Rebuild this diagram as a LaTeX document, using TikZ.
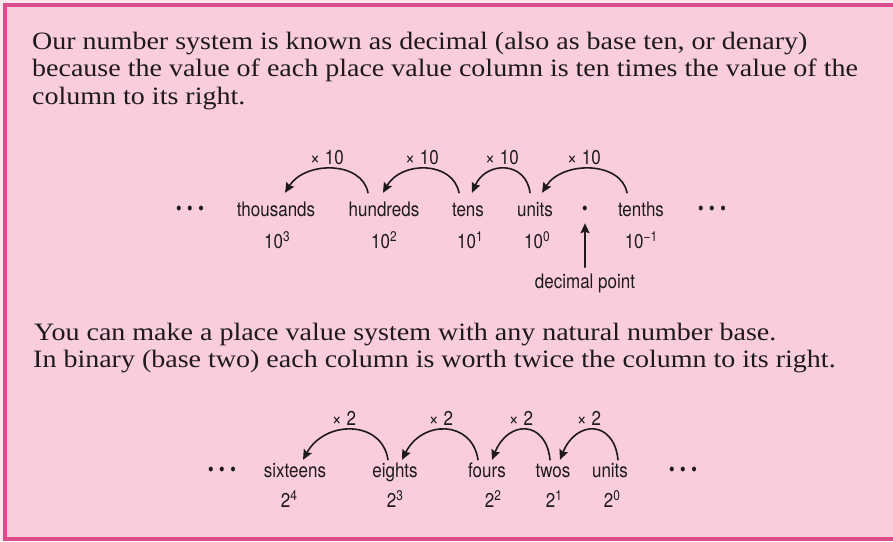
\documentclass[tikz,border=0pt]{standalone}
\usepackage{fontspec}
\setmainfont{Liberation Serif}[FakeStretch=1.12]
\setsansfont{TeX Gyre Heros}[FakeStretch=0.85]
\usetikzlibrary{arrows.meta}
\definecolor{boxpink}{RGB}{249,204,222}
\definecolor{rimpink}{RGB}{218,78,138}
\definecolor{inkgrey}{RGB}{30,26,28}
\newcommand{\elip}{{\bfseries\fontsize{32}{32}\selectfont ·\kern3.5pt·\kern3.5pt·}}
\newcommand{\pw}[1]{\raisebox{6.5pt}{\fontsize{14}{14}\selectfont #1}}

\begin{document}
\begin{tikzpicture}[x=1pt,y=-1pt]
\tikzset{
  bodytext/.style={anchor=base west,inner sep=0pt,font=\fontsize{25}{28}\selectfont,text=inkgrey},
  sanstext/.style={anchor=base,inner sep=0pt,font=\sffamily\fontsize{20}{24}\selectfont,text=inkgrey},
  colname/.style={sanstext,text height=14pt,text depth=4pt},
  hop/.style={draw=inkgrey,line width=1.6pt,line cap=round,-{Stealth[length=10pt,width=9pt,inset=1.5pt]}}
}
\useasboundingbox (0,0) rectangle (893,541);
\clip (0,0) rectangle (893,541);
\fill[white!55!boxpink] (0,0) rectangle (893,541);
\draw[rimpink,line width=4pt,fill=boxpink] (5,5) rectangle (905,538.5);
% decimal text
\node[bodytext] (n_line1) at (32,49) {Our number system is known as decimal (also as base ten, or denary)};
\node[bodytext] (n_line2) at (32,76.5) {because the value of each place value column is ten times the value of the};
\node[bodytext] (n_line3) at (32,104) {column to its right.};
% decimal columns
\node[sanstext] (n_dotsA) at (190,216) {\elip};
\node[colname] (n_thousands) at (276,216) {thousands};
\node[colname] (n_hundreds) at (384,216) {hundreds};
\node[colname] (n_tens) at (468,216) {tens};
\node[colname] (n_units) at (535,216) {units};
\node[sanstext,font=\sffamily\bfseries\fontsize{32}{32}\selectfont] (n_point) at (585,216) {·};
\node[colname] (n_tenths) at (641,216) {tenths};
\node[sanstext] (n_dotsB) at (712,216) {\elip};
\node[sanstext] (n_p3) at (277,248) {10\pw{3}};
\node[sanstext] (n_p2) at (384,248) {10\pw{2}};
\node[sanstext] (n_p1) at (470,248) {10\pw{1}};
\node[sanstext] (n_p0) at (537,248) {10\pw{0}};
\node[sanstext] (n_pm1) at (641,248) {10\pw{−1}};
\node[sanstext] (n_decimal) at (585,288) {decimal point};
\node[sanstext] (n_x1) at (327,164) {× 10};
\node[sanstext] (n_x2) at (422,164) {× 10};
\node[sanstext] (n_x3) at (502,164) {× 10};
\node[sanstext] (n_x4) at (584,164) {× 10};
\draw[hop] ([xshift=-16pt,yshift=9pt]n_hundreds.north) .. controls +(-6,-32) and +(20,-32) .. ([xshift=9pt,yshift=9pt]n_thousands.north);
\draw[hop] ([xshift=-9pt,yshift=9pt]n_tens.north) .. controls +(-6,-32) and +(18,-32) .. ([xshift=-1pt,yshift=9pt]n_hundreds.north);
\draw[hop] ([xshift=-5pt,yshift=9pt]n_units.north) .. controls +(-4,-32) and +(14,-32) .. ([xshift=4pt,yshift=9pt]n_tens.north);
\draw[hop] ([xshift=-14pt,yshift=9pt]n_tenths.north) .. controls +(-6,-32) and +(20,-32) .. ([xshift=7pt,yshift=9pt]n_units.north);
\draw[hop] ([yshift=6pt]n_decimal.north) -- ([yshift=-7pt]n_point.south);
% binary text
\node[bodytext] (n_line4) at (34,340) {You can make a place value system with any natural number base.};
\node[bodytext] (n_line5) at (33,367) {In binary (base two) each column is worth twice the column to its right.};
% binary columns
\node[sanstext] (n_dotsC) at (222,477) {\elip};
\node[colname] (n_sixteens) at (295,477) {sixteens};
\node[colname] (n_eights) at (395,477) {eights};
\node[colname] (n_fours) at (487,477) {fours};
\node[colname] (n_twos) at (553,477) {twos};
\node[colname] (n_ones) at (610,477) {units};
\node[sanstext] (n_dotsD) at (683,477) {\elip};
\node[sanstext] (n_b4) at (289,507) {2\pw{4}};
\node[sanstext] (n_b3) at (395,507) {2\pw{3}};
\node[sanstext] (n_b2) at (493,507) {2\pw{2}};
\node[sanstext] (n_b1) at (554,507) {2\pw{1}};
\node[sanstext] (n_b0) at (612,507) {2\pw{0}};
\node[sanstext] (n_y1) at (344,425) {× 2};
\node[sanstext] (n_y2) at (441,425) {× 2};
\node[sanstext] (n_y3) at (521,425) {× 2};
\node[sanstext] (n_y4) at (589,425) {× 2};
\draw[hop] ([xshift=-7pt,yshift=3pt]n_eights.north) .. controls +(-6,-40) and +(22,-40) .. ([xshift=8pt,yshift=3pt]n_sixteens.north);
\draw[hop] ([xshift=-9pt,yshift=3pt]n_fours.north) .. controls +(-6,-40) and +(20,-40) .. ([xshift=7pt,yshift=3pt]n_eights.north);
\draw[hop] ([xshift=-3pt,yshift=3pt]n_twos.north) .. controls +(-4,-40) and +(16,-40) .. ([xshift=5pt,yshift=3pt]n_fours.north);
\draw[hop] ([xshift=8pt,yshift=3pt]n_ones.north) .. controls +(-4,-40) and +(16,-40) .. ([xshift=7pt,yshift=3pt]n_twos.north);
\end{tikzpicture}
\end{document}
